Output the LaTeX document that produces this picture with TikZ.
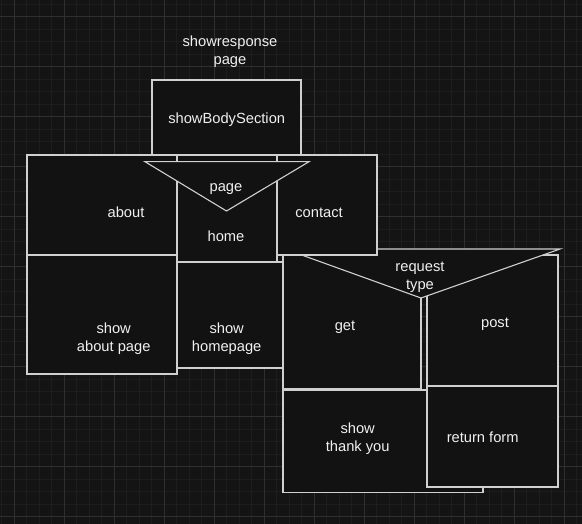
\documentclass[tikz,border=0pt]{standalone}
\usepackage{fontspec}
\setmainfont{Liberation Sans}
\definecolor{bgc}{HTML}{141414}
\definecolor{minorc}{HTML}{1D1D1D}
\definecolor{majorc}{HTML}{2F2F2F}
\definecolor{fillc}{HTML}{121212}
\definecolor{strokec}{HTML}{D0D0D0}
\definecolor{textc}{HTML}{F0F0F0}
\tikzset{
  box/.style={draw=strokec, fill=fillc, line width=1.1pt, rectangle, inner sep=0pt, outer sep=0pt, anchor=north west},
  tri/.style={draw=strokec, fill=fillc, line width=1.1pt, line join=miter},
  lblbase/.style={text=textc, font=\fontsize{14.7}{18}\selectfont, align=center, inner sep=0pt},
  lbl/.style={lblbase, anchor=base},
  lbltwo/.style={lblbase},
}
\begin{document}
\begin{tikzpicture}[x=1pt,y=-1pt]
\fill[bgc] (0,0) rectangle (582,524);
\useasboundingbox (0,0) rectangle (582,524);
% grid
\foreach \i in {0,...,47} {
  \draw[minorc, line width=0.8pt] ({1.5+12.5*\i},0) -- ({1.5+12.5*\i},524);
}
\foreach \i in {0,...,42} {
  \draw[minorc, line width=0.8pt] (0,{4.2+12.5*\i}) -- (582,{4.2+12.5*\i});
}
\foreach \i in {0,...,11} {
  \draw[majorc, line width=1pt] ({14+50*\i},0) -- ({14+50*\i},524);
}
\foreach \i in {0,...,10} {
  \draw[majorc, line width=1pt] (0,{16.7+50*\i}) -- (582,{16.7+50*\i});
}
% shapes
\node[box, minimum width=149pt, minimum height=75pt] (body) at (152,80) {};
\node[box, minimum width=138pt, minimum height=134pt] (get) at (283,255) {};
\node[box, minimum width=131pt, minimum height=131pt] (post) at (427,255) {};
\coordinate (rtA) at (285,249);
\coordinate (rtB) at (560,249);
\coordinate (rtC) at (421,298);
\draw[tri] (rtA) -- (rtB) -- (rtC) -- cycle;
\node[box, minimum width=100pt, minimum height=100pt] (contact) at (277,155) {};
\node[box, minimum width=150pt, minimum height=100pt] (about) at (27,155) {};
\node[box, minimum width=100pt, minimum height=107pt] (home) at (177,155) {};
\coordinate (ptA) at (145,161.7);
\coordinate (ptB) at (309,161.7);
\coordinate (ptC) at (226.5,211);
\draw[tri] (ptA) -- (ptB) -- (ptC) -- cycle;
\node[box, minimum width=150pt, minimum height=119pt] (showabout) at (27,255) {};
\node[box, minimum width=106pt, minimum height=106pt] (showhome) at (177,262) {};
\node[box, minimum width=200pt, minimum height=102.5pt] (showthanks) at (283,390) {};
\node[box, minimum width=131pt, minimum height=100.5pt] (retform) at (427,386.5) {};
% labels
\node[lbltwo] (t1) at (230,52) {showresponse\\page};
\node[lbl] (t2) at (226.7,123.3) {showBodySection};
\node[lbl] (t3) at (226,192) {page};
\node[lbl] (t4) at (126,217.3) {about};
\node[lbl] (t5) at (226,241.7) {home};
\node[lbl] (t6) at (319,217.3) {contact};
\node[lbltwo] (t7) at (420,277) {request\\type};
\node[lbl] (t8) at (345,330.7) {get};
\node[lbl] (t9) at (495,327.3) {post};
\node[lbltwo] (t10) at (113.7,338.6) {show\\about page};
\node[lbltwo] (t11) at (226.7,338.6) {show\\homepage};
\node[lbltwo] (t12) at (357.7,438.6) {show\\thank you};
\node[lbl] (t13) at (482.7,442.7) {return form};
\end{tikzpicture}
\end{document}
